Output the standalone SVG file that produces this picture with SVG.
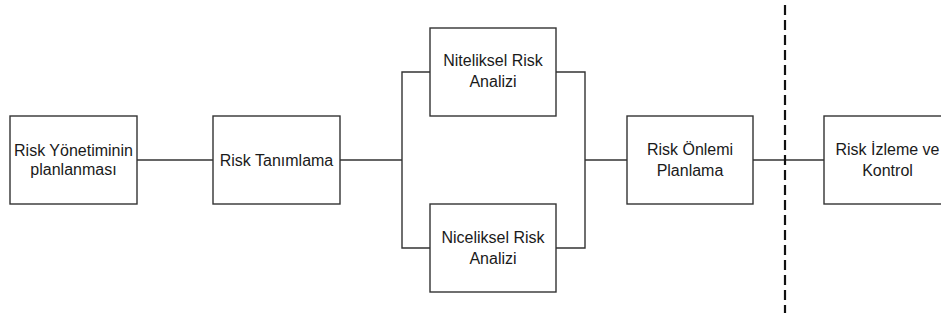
<svg xmlns="http://www.w3.org/2000/svg" width="941" height="323" viewBox="0 0 941 323">
<style>
.box{fill:#fff;stroke:#333;stroke-width:1.4}
.lbl{font-family:"Liberation Sans",Arial,sans-serif;font-size:16px;fill:#1a1a1a;text-anchor:middle}
.con{fill:none;stroke:#333;stroke-width:1.4}
</style>
<rect width="941" height="323" fill="#fff"/>
<g id="connectors">
<path class="con" d="M137 160H213"/>
<path class="con" d="M340 160H402M430 72H402V248H430"/>
<path class="con" d="M556 72H585V248H556M585 160H627"/>
<path class="con" d="M753 160H824"/>
<path d="M785 5V313" fill="none" stroke="#111" stroke-width="2.2" stroke-dasharray="10,5"/>
</g>
<g id="n1"><rect class="box" x="10" y="116" width="127" height="88"/><text class="lbl" x="73.5" y="156">Risk Yönetiminin</text><text class="lbl" x="73.5" y="175">planlanması</text></g>
<g id="n2"><rect class="box" x="213" y="116" width="127" height="88"/><text class="lbl" x="276.5" y="166">Risk Tanımlama</text></g>
<g id="n3"><rect class="box" x="430" y="28" width="126" height="88"/><text class="lbl" x="493" y="66">Niteliksel Risk</text><text class="lbl" x="493" y="87">Analizi</text></g>
<g id="n4"><rect class="box" x="430" y="204" width="126" height="88"/><text class="lbl" x="493" y="243">Niceliksel Risk</text><text class="lbl" x="493" y="264">Analizi</text></g>
<g id="n5"><rect class="box" x="627" y="116" width="126" height="88"/><text class="lbl" x="690" y="155">Risk Önlemi</text><text class="lbl" x="690" y="176">Planlama</text></g>
<g id="n6"><rect class="box" x="824" y="116" width="127" height="88"/><text class="lbl" x="887.5" y="155">Risk İzleme ve</text><text class="lbl" x="887.5" y="176">Kontrol</text></g>
</svg>
